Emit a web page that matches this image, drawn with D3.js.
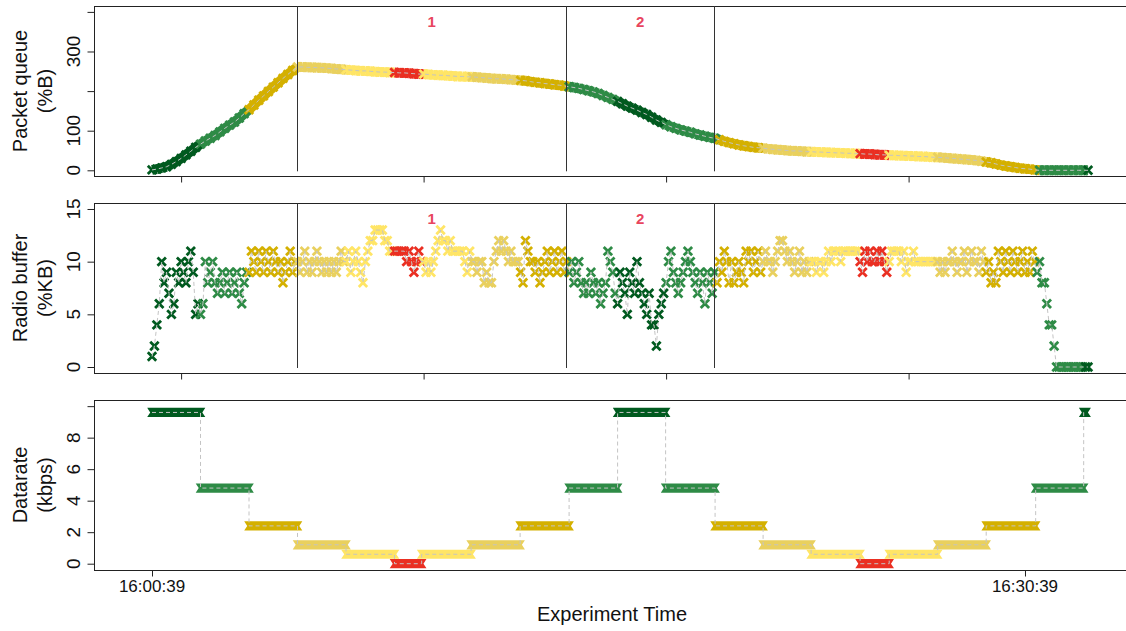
<!DOCTYPE html>
<html>
<head>
<meta charset="utf-8">
<script src="https://cdn.jsdelivr.net/npm/d3@7"></script>
<style>
body { margin: 0; background: #fff; }
text { font-family: "Liberation Sans", Arial, Helvetica, sans-serif; fill: #111; }
</style>
</head>
<body>
<div id="chart"></div>
<script>
"use strict";
(function() {

const WIDTH = 1126
const HEIGHT = 631
const BOX_LEFT = 94
const BOX_RIGHT = 1130

// experiment start, all times below are seconds from it
const START = new Date(2020, 0, 1, 16, 0, 39)

// datarate schedule: time of each change and the level held afterwards (kbps)
const RATE_TIMES = [0, 100, 200, 300, 400, 500, 556, 658, 759, 860, 960, 1059,
                    1161, 1260, 1359, 1460, 1520, 1620, 1720, 1822, 1921]
const RATE_LEVELS = [9.6, 4.8, 2.4, 1.2, 0.6, 0, 0.6, 1.2, 2.4, 4.8, 9.6, 4.8,
                     2.4, 1.2, 0.6, 0, 0.6, 1.2, 2.4, 4.8, 9.6]
const RATE_END = 1926

// packet queue, one sample every 10 s
const QUEUE_STEP = 10
const QUEUE = [
    1,3,6,9,15,22,30,39,48,58,
    66,74,81,88,97,106,114,122,132,143,
    153,165,177,188,199,210,221,232,242,252,
    261,261,260,260,259,259,258,257,256,255,
    254,253,252,251,251,250,249,248,248,247,
    247,246,246,245,244,243,243,242,241,240,
    240,239,238,237,237,236,236,235,234,233,
    232,231,231,230,229,228,227,226,224,222,
    221,219,218,216,215,213,211,209,207,204,
    201,198,194,189,184,179,174,168,162,157,
    152,146,141,134,127,121,115,110,106,102,
    99,96,92,89,86,83,81,77,73,70,
    67,64,62,60,58,57,56,54,53,52,
    51,50,49,49,48,47,47,46,46,45,
    45,44,44,43,43,42,42,41,41,40,
    39,39,38,38,37,37,36,36,35,35,
    34,33,33,32,31,30,29,28,27,26,
    25,23,21,19,16,13,11,9,7,5,
    4,3,1,0,0,0,0,0,0,0,
    0,0,0,0]

// radio buffer, one sample every 5 s
const RADIO_STEP = 5
const RADIO = [
    1,2,4,6,10,8,9,7,5,6,9,8,10,9,8,10,11,9,5,6,
    5,6,10,8,9,10,8,7,8,9,7,8,9,7,8,9,7,6,8,9,
    9,11,10,9,11,10,9,11,10,9,11,10,9,10,8,9,10,11,9,10,
    10,9,10,11,9,10,9,10,11,10,9,10,9,10,9,10,9,10,11,10,
    10,11,9,10,11,10,9,8,10,11,12,12,13,13,13,13,12,12,11,11,
    11,11,11,11,11,10,11,10,9,10,11,10,10,9,10,9,10,11,12,13,
    12,12,11,12,11,11,11,11,11,10,9,11,10,10,9,10,10,8,9,8,
    8,10,11,12,11,12,11,10,11,10,10,10,9,8,12,11,10,10,9,10,
    8,9,10,11,9,10,11,9,10,11,9,10,9,10,8,9,10,8,7,8,
    7,9,8,7,8,6,7,8,11,10,9,7,6,9,8,7,5,9,8,7,
    10,8,7,6,5,7,4,4,2,5,6,7,8,10,11,9,8,7,8,9,
    10,11,10,9,8,7,9,8,6,9,8,7,9,8,10,9,11,10,8,10,
    8,9,10,9,8,11,10,11,9,10,11,9,10,11,10,10,9,10,11,12,
    12,11,10,11,10,9,10,11,9,10,9,10,10,10,9,10,10,9,10,11,
    10,11,11,11,10,11,11,11,11,11,11,11,10,9,11,10,11,10,10,11,
    10,11,10,9,10,11,11,11,11,10,11,9,10,10,11,10,10,10,10,10,
    10,10,10,10,10,9,10,9,10,10,11,10,9,10,10,11,9,10,11,10,
    10,9,11,10,9,10,8,9,8,11,10,9,11,10,9,11,10,9,10,11,
    9,10,9,11,10,9,10,8,8,6,4,4,2,0,0,0,0,0,0,0,
    0,0,0,0,0,0,0]

// phase boundaries and their labels
const EVENT_TIMES = [299, 854, 1159]
const EVENT_LABELS = ["1", "2"]

// tick values
const TOP_X_TICKS = [60, 560, 1060, 1560]
const BOTTOM_X_TICKS = [0, 1800]
const QUEUE_TICKS = [0, 100, 200, 300, 400]
const QUEUE_LABELS = ["0", "100", "", "300", ""]
const RADIO_TICKS = [0, 5, 10, 15]
const RADIO_LABELS = ["0", "5", "10", "15"]
const RATE_TICKS = [0, 2, 4, 6, 8, 10]
const RATE_LABELS = ["0", "2", "4", "6", "8", ""]

const PALETTE = d3.scaleOrdinal()
    .domain([9.6, 4.8, 2.4, 1.2, 0.6, 0])
    .range(["#005a1f", "#2e8b46", "#d4b000", "#e9d05e", "#ffe566", "#ea2f22"])

const DASH = "#c4c4c4"
const EVENT_COLOR = "#e8455e"

function secs(s) { return new Date(START.getTime() + s * 1000) }

function levelAt(t) {
    let i = d3.bisectRight(RATE_TIMES, t) - 1
    return RATE_LEVELS[Math.max(0, i)]
}

const x = d3.scaleTime()
    .domain([secs(-119.6), secs(2016.5)])
    .range([BOX_LEFT, BOX_RIGHT])

const svg = d3.select("#chart").append("svg")
    .attr("width", WIDTH)
    .attr("height", HEIGHT)

const panels = [
    { top: 6, bottom: 176, domain: [-14.4, 414.9], ticks: QUEUE_TICKS, labels: QUEUE_LABELS,
      title: ["Packet queue", "(%B)"] },
    { top: 203.3, bottom: 372.7, domain: [-0.54, 15.54], ticks: RADIO_TICKS, labels: RADIO_LABELS,
      title: ["Radio buffer", "(%KB)"] },
    { top: 400, bottom: 570, domain: [-0.4, 10.39], ticks: RATE_TICKS, labels: RATE_LABELS,
      title: ["Datarate", "(kbps)"] }
]

panels.forEach(p => {
    p.y = d3.scaleLinear().domain(p.domain).range([p.bottom, p.top])
    p.g = svg.append("g")
})

function drawFrame(p, xTicks, xLabels) {
    let g = p.g
    g.append("rect")
        .attr("x", BOX_LEFT + 0.5).attr("y", Math.round(p.top) + 0.5)
        .attr("width", BOX_RIGHT - BOX_LEFT).attr("height", Math.round(p.bottom) - Math.round(p.top))
        .attr("fill", "none").attr("stroke", "#222").attr("stroke-width", 1)

    g.append("g")
        .attr("transform", `translate(0,${Math.round(p.bottom) + 0.5})`)
        .call(d3.axisBottom(x).tickValues(xTicks.map(secs)).tickSize(6).tickFormat(""))
        .call(a => a.select(".domain").remove())
        .call(a => a.selectAll("line").attr("stroke", "#222"))

    if (xLabels) {
        g.selectAll("text.xlab").data(xTicks).join("text")
            .attr("class", "xlab")
            .attr("x", d => x(secs(d)))
            .attr("y", 592)
            .attr("text-anchor", "middle")
            .attr("font-size", "17px")
            .text(d => d3.timeFormat("%H:%M:%S")(secs(d)))
    }

    g.append("g")
        .attr("transform", `translate(${BOX_LEFT + 0.5},0)`)
        .call(d3.axisLeft(p.y).tickValues(p.ticks).tickSize(7).tickFormat(""))
        .call(a => a.select(".domain").remove())
        .call(a => a.selectAll("line").attr("stroke", "#222"))

    p.ticks.forEach((v, i) => {
        g.append("text")
            .attr("transform", `translate(80,${p.y(v)}) rotate(-90)`)
            .attr("text-anchor", "middle")
            .attr("font-size", "19px")
            .text(p.labels[i])
    })

    let mid = (p.top + p.bottom) / 2
    g.append("text")
        .attr("transform", `translate(27,${mid}) rotate(-90)`)
        .attr("text-anchor", "middle")
        .attr("font-size", "20px")
        .text(p.title[0])
    g.append("text")
        .attr("transform", `translate(51.5,${mid}) rotate(-90)`)
        .attr("text-anchor", "middle")
        .attr("font-size", "20px")
        .text(p.title[1])
}

const MARK = "M-4.2,-4.2L4.2,4.2M-4.2,4.2L4.2,-4.2"

function drawMarks(p, pts) {
    p.g.append("g").selectAll("path").data(pts).join("path")
        .attr("d", MARK)
        .attr("transform", d => `translate(${x(secs(d.t))},${p.y(d.v)})`)
        .attr("fill", "none")
        .attr("stroke", d => PALETTE(levelAt(d.t)))
        .attr("stroke-width", 2.8)
}

function drawDashed(p, pts) {
    let line = d3.line().x(d => x(secs(d.t))).y(d => p.y(d.v))
    p.g.append("path")
        .attr("d", line(pts))
        .attr("fill", "none")
        .attr("stroke", DASH)
        .attr("stroke-width", 1)
        .attr("stroke-dasharray", "4,3")
}

function drawEvents(p) {
    EVENT_TIMES.forEach(t => {
        p.g.append("line")
            .attr("x1", Math.round(x(secs(t))) + 0.5).attr("x2", Math.round(x(secs(t))) + 0.5)
            .attr("y1", p.top).attr("y2", p.y(0) + 1)
            .attr("stroke", "#333").attr("stroke-width", 1)
    })
    EVENT_LABELS.forEach((lab, i) => {
        let t = (EVENT_TIMES[i] + EVENT_TIMES[i + 1]) / 2
        p.g.append("text")
            .attr("x", x(secs(t)))
            .attr("y", p.top + 20.5)
            .attr("text-anchor", "middle")
            .attr("font-size", "15px")
            .attr("font-weight", "bold")
            .style("fill", EVENT_COLOR)
            .text(lab)
    })
}

// ---- panel 1: packet queue
let p1 = panels[0]
let queuePts = QUEUE.map((v, i) => ({ t: i * QUEUE_STEP, v: v }))
drawFrame(p1, TOP_X_TICKS, null)
p1.g.append("g").selectAll("line").data(d3.pairs(queuePts)).join("line")
    .attr("x1", d => x(secs(d[0].t))).attr("y1", d => p1.y(d[0].v))
    .attr("x2", d => x(secs(d[1].t))).attr("y2", d => p1.y(d[1].v))
    .attr("stroke", d => PALETTE(levelAt(d[0].t)))
    .attr("stroke-width", 10)
drawMarks(p1, queuePts)
drawDashed(p1, queuePts)
drawEvents(p1)

// ---- panel 2: radio buffer
let p2 = panels[1]
let radioPts = RADIO.map((v, i) => ({ t: i * RADIO_STEP, v: v }))
drawFrame(p2, TOP_X_TICKS, null)
drawMarks(p2, radioPts)
drawDashed(p2, radioPts)
drawEvents(p2)

// ---- panel 3: datarate steps
let p3 = panels[2]
drawFrame(p3, BOTTOM_X_TICKS, true)
let steps = RATE_LEVELS.map((v, i) => ({
    t0: RATE_TIMES[i],
    t1: i + 1 < RATE_TIMES.length ? RATE_TIMES[i + 1] : RATE_END,
    v: v
}))
let stepPts = []
steps.forEach(s => { stepPts.push({ t: s.t0, v: s.v }); stepPts.push({ t: s.t1, v: s.v }) })

function bandPath(x0, x1, yc) {
    const w = 4.8, h = 4.6, n = 3
    return `M${x0 - w},${yc - h}L${x1 + w},${yc - h}L${x1 + w - n},${yc}L${x1 + w},${yc + h}` +
        `L${x0 - w},${yc + h}L${x0 - w + n},${yc}Z`
}

p3.g.append("g").selectAll("path").data(steps).join("path")
    .attr("d", s => bandPath(x(secs(s.t0)), x(secs(s.t1)), p3.y(s.v)))
    .attr("fill", s => PALETTE(s.v))
drawDashed(p3, stepPts)

svg.append("text")
    .attr("x", (BOX_LEFT + BOX_RIGHT) / 2)
    .attr("y", 621)
    .attr("text-anchor", "middle")
    .attr("font-size", "20px")
    .text("Experiment Time")

})();
</script>
</body>
</html>
